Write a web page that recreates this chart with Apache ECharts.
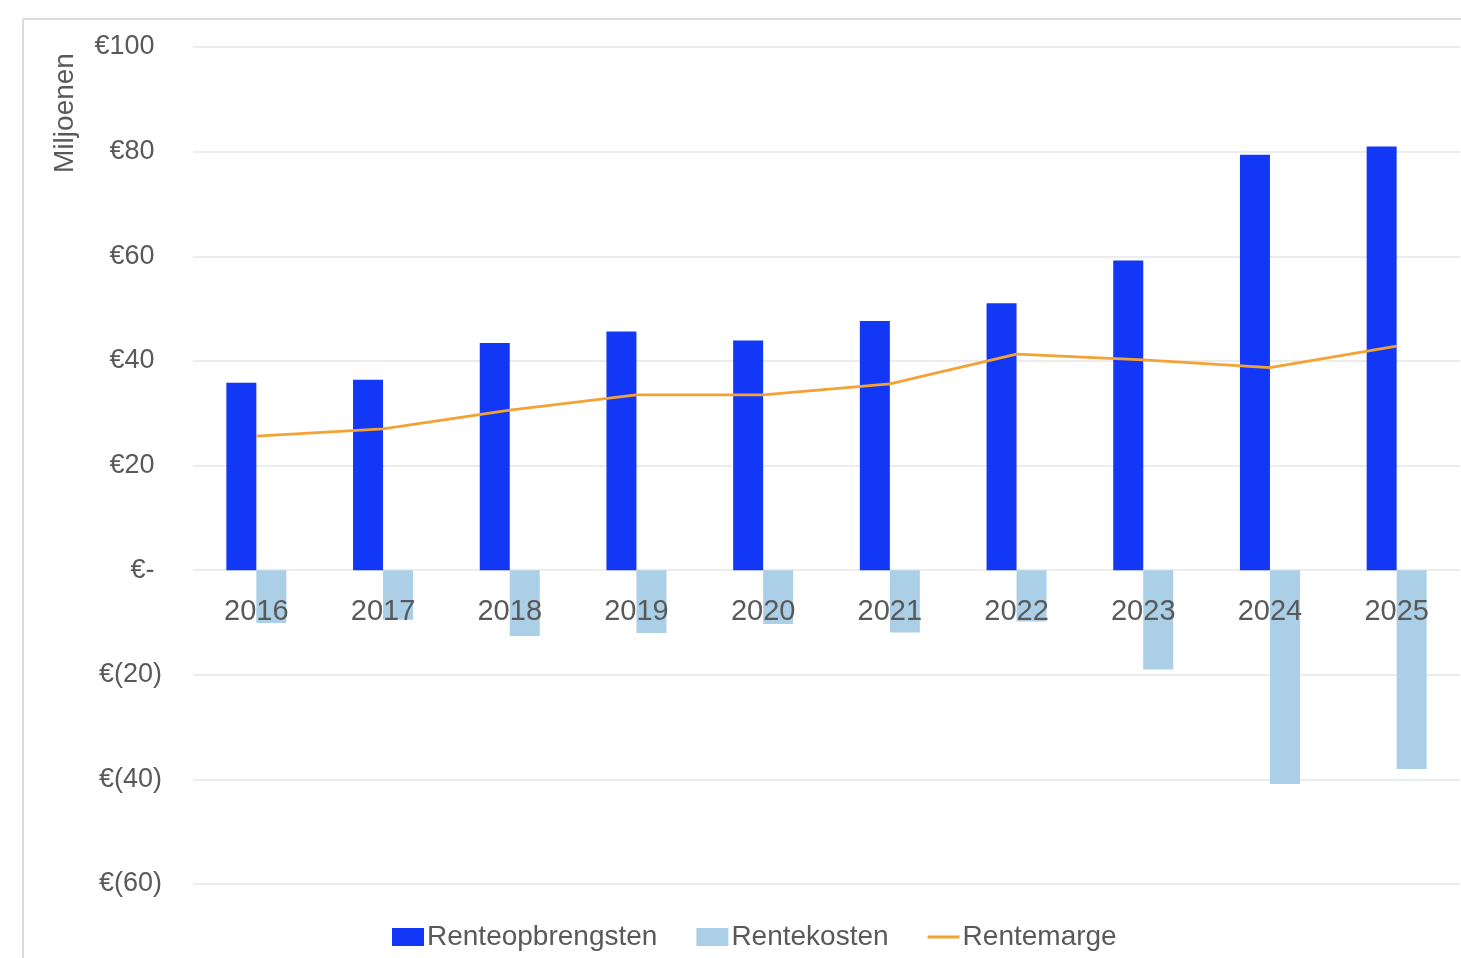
<!DOCTYPE html>
<html>
<head>
<meta charset="utf-8">
<script src="https://cdn.jsdelivr.net/npm/echarts@6/dist/echarts.min.js"></script>
<style>
  html, body { margin: 0; padding: 0; background: #ffffff; }
  #chart { width: 1461px; height: 958px; }
</style>
</head>
<body>
<div id="chart"></div>
<script>
const categories = ['2016', '2017', '2018', '2019', '2020', '2021', '2022', '2023', '2024', '2025'];
const renteopbrengsten = [35.8, 36.4, 43.4, 45.6, 43.9, 47.6, 51.0, 59.2, 79.4, 81.0];
const rentekosten = [-10.1, -9.5, -12.6, -12.0, -10.3, -11.9, -9.8, -19.0, -40.9, -38.0];
const rentemarge = [25.6, 27.0, 30.6, 33.5, 33.5, 35.6, 41.3, 40.2, 38.7, 42.8];
const seriesNames = ['Renteopbrengsten', 'Rentekosten', 'Rentemarge'];
const yAxisTitle = 'Miljoenen';
const yMin = -60, yMax = 100, yStep = 20;

const FONT = '"Liberation Sans", Arial, sans-serif';
const TEXT_COLOR = '#595959';
const LINE_COLOR = '#F4A236';

const GRID_TOP = 47, GRID_BOTTOM = 74, CHART_H = 958;
// move the category axis up onto the zero line
const plotH = CHART_H - GRID_TOP - GRID_BOTTOM;
const zeroOffset = -plotH * (0 - yMin) / (yMax - yMin);

function euroFormat(v) {
  if (v === 0) return '€- ';
  if (v < 0) return '€(' + Math.abs(v) + ')';
  return '€' + v + ' ';
}

const chart = echarts.init(document.getElementById('chart'));
chart.setOption({
  backgroundColor: '#ffffff',
  animation: false,
  textStyle: { fontFamily: FONT },
  grid: { left: 193, right: 1, top: GRID_TOP, bottom: GRID_BOTTOM, containLabel: false },
  graphic: [
    {
      type: 'rect',
      shape: { x: 23, y: 19, width: 1480, height: 1000 },
      style: { fill: 'none', stroke: '#dcdcdc', lineWidth: 2 },
      silent: true,
      z: -10
    },
    {
      type: 'text',
      x: 65,
      y: 113,
      rotation: Math.PI / 2,
      style: {
        text: yAxisTitle,
        fill: TEXT_COLOR,
        font: '28px ' + FONT,
        textAlign: 'center',
        textVerticalAlign: 'middle'
      }
    }
  ],
  legend: {
    left: 392,
    top: 923,
    padding: 0,
    itemWidth: 32,
    itemHeight: 18,
    itemGap: 39,
    textStyle: { color: TEXT_COLOR, fontSize: 28, fontFamily: FONT, padding: [0, 0, 0, -2] },
    data: [
      { name: seriesNames[0], icon: 'rect' },
      { name: seriesNames[1], icon: 'rect' },
      {
        name: seriesNames[2],
        icon: 'path://M0,0L32,0L32,0.01L0,0.01Z M0,7.6L32,7.6L32,10.4L0,10.4Z M0,17.99L32,17.99L32,18L0,18Z',
        itemStyle: { color: LINE_COLOR }
      }
    ]
  },
  xAxis: {
    type: 'category',
    data: categories,
    position: 'bottom',
    offset: zeroOffset,
    z: 10,
    axisLine: { show: false, onZero: false },
    axisTick: { show: false },
    axisLabel: { color: TEXT_COLOR, fontSize: 29, fontFamily: FONT, margin: 27 },
    splitLine: { show: false }
  },
  yAxis: {
    type: 'value',
    min: yMin,
    max: yMax,
    interval: yStep,
    axisLine: { show: false },
    axisTick: { show: false },
    axisLabel: {
      color: TEXT_COLOR,
      fontSize: 27,
      fontFamily: FONT,
      margin: 31,
      formatter: euroFormat
    },
    splitLine: { show: true, lineStyle: { color: '#ececec', width: 2 } }
  },
  series: [
    {
      name: seriesNames[0],
      type: 'bar',
      data: renteopbrengsten,
      barWidth: 30,
      barGap: '0%',
      itemStyle: { color: '#1238F5' },
      z: 2
    },
    {
      name: seriesNames[1],
      type: 'bar',
      data: rentekosten,
      barWidth: 30,
      barGap: '0%',
      itemStyle: { color: '#AACFE6' },
      z: 2
    },
    {
      name: seriesNames[2],
      type: 'line',
      data: rentemarge,
      symbol: 'none',
      lineStyle: { color: LINE_COLOR, width: 2.8 },
      itemStyle: { color: LINE_COLOR },
      z: 5
    }
  ]
});
</script>
</body>
</html>
